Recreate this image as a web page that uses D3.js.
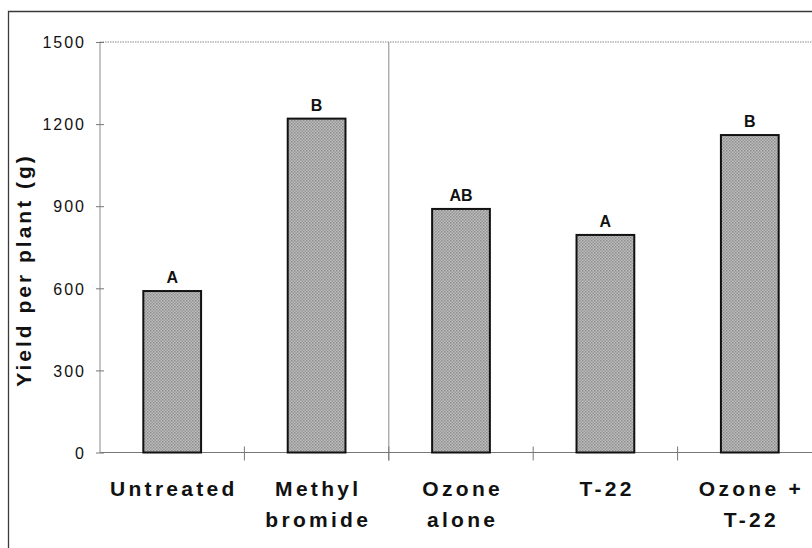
<!DOCTYPE html>
<html>
<head>
<meta charset="utf-8">
<script src="https://cdn.jsdelivr.net/npm/d3@7"></script>
<style>
  html, body { margin: 0; padding: 0; background: #fff; }
  svg { display: block; font-family: "Liberation Sans", Arial, sans-serif; }
  .tick-lab { font-size: 16px; letter-spacing: 2px; fill: #111; }
  .cat-lab { font-size: 21px; font-weight: bold; letter-spacing: 3.3px; fill: #111; }
  .sig-lab { font-size: 16px; font-weight: bold; fill: #111; }
  .y-title { font-size: 21px; font-weight: bold; letter-spacing: 3px; fill: #111; }
</style>
</head>
<body>
<div id="chart"></div>
<script>
// data
var categories = ["Untreated", "Methyl bromide", "Ozone alone", "T-22", "Ozone + T-22"],
    catLines = [["Untreated"], ["Methyl", "bromide"], ["Ozone", "alone"], ["T-22"], ["Ozone +", "T-22"]],
    yields = [590, 1220, 890, 795, 1160],
    sigLetters = ["A", "B", "AB", "A", "B"],
    yTicks = [0, 300, 600, 900, 1200, 1500];

var W = 812, H = 548,
    m = { t: 42, l: 100 },
    plotW = 722,   // runs past the right edge of the picture, as in the original
    plotB = 452.5;

var svg = d3.select("#chart")
  .append("svg")
    .attr("width", W)
    .attr("height", H);

// halftone-ish fill for the bars
var defs = svg.append("defs");
var pat = defs.append("pattern")
    .attr("id", "dots")
    .attr("width", 3)
    .attr("height", 3)
    .attr("patternUnits", "userSpaceOnUse");
pat.append("rect").attr("width", 3).attr("height", 3).attr("fill", "#bcbcbc");
pat.append("rect").attr("width", 1.5).attr("height", 1.5).attr("fill", "#8e8e8e");
pat.append("rect").attr("x", 1.5).attr("y", 1.5).attr("width", 1.5).attr("height", 1.5).attr("fill", "#999");

var x = d3.scaleBand()
    .domain(categories)
    .range([m.l, m.l + plotW])
    .paddingInner(0.6)
    .paddingOuter(0.3);
var xBand = d3.scaleBand()
    .domain(categories)
    .range([m.l, m.l + plotW]);
var y = d3.scaleLinear()
    .domain([0, 1500])
    .range([plotB, m.t]);

// outer frame (left and top only visible)
svg.append("path")
    .attr("d", "M8.5," + H + "V11.5H" + W)
    .attr("fill", "none")
    .attr("stroke", "#3a3a3a")
    .attr("stroke-width", 1.3);

// plot area border
svg.append("line")
    .attr("x1", m.l).attr("x2", W)
    .attr("y1", m.t).attr("y2", m.t)
    .attr("stroke", "#888")
    .attr("stroke-dasharray", "1.5,1");
svg.append("line")
    .attr("x1", m.l).attr("x2", m.l)
    .attr("y1", m.t).attr("y2", plotB)
    .attr("stroke", "#8a8a8a");

// separator between controls and ozone/T-22 treatments
var sepX = xBand(categories[2]);
svg.append("line")
    .attr("x1", sepX).attr("x2", sepX)
    .attr("y1", m.t).attr("y2", plotB + 8)
    .attr("stroke", "#8a8a8a");

// y axis
var axisY = d3.axisLeft(y)
    .tickValues(yTicks)
    .tickFormat(d3.format("d"))
    .tickSize(0)
    .tickPadding(14);
var gy = svg.append("g")
    .attr("transform", "translate(" + m.l + ",0)")
    .call(axisY);
gy.select(".domain").remove();
gy.selectAll("text")
    .attr("class", "tick-lab")
    .attr("font-family", null)
    .attr("font-size", null)
    .attr("dy", "0.36em");
gy.selectAll(".tick").append("line")
    .attr("x1", -4).attr("x2", 4)
    .attr("stroke", "#777");

// x axis baseline and ticks between categories
svg.append("line")
    .attr("x1", m.l).attr("x2", W)
    .attr("y1", plotB).attr("y2", plotB)
    .attr("stroke", "#777");
svg.selectAll(".xtick")
    .data(categories.slice(1))
  .enter().append("line")
    .attr("class", "xtick")
    .attr("x1", function(d) { return xBand(d); })
    .attr("x2", function(d) { return xBand(d); })
    .attr("y1", plotB - 6)
    .attr("y2", plotB + 8)
    .attr("stroke", "#777");

// bars
svg.selectAll(".bar")
    .data(yields)
  .enter().append("rect")
    .attr("class", "bar")
    .attr("x", function(d, i) { return x(categories[i]); })
    .attr("width", x.bandwidth())
    .attr("y", function(d) { return y(d); })
    .attr("height", function(d) { return plotB - y(d); })
    .attr("fill", "url(#dots)")
    .attr("stroke", "#111")
    .attr("stroke-width", 2);

// significance letters
svg.selectAll(".sig-lab")
    .data(sigLetters)
  .enter().append("text")
    .attr("class", "sig-lab")
    .attr("text-anchor", "middle")
    .attr("x", function(d, i) { return x(categories[i]) + x.bandwidth() / 2; })
    .attr("y", function(d, i) { return y(yields[i]) - 8; })
    .text(function(d) { return d; });

// category labels
var cat = svg.selectAll(".cat-lab")
    .data(catLines)
  .enter().append("text")
    .attr("class", "cat-lab")
    .attr("text-anchor", "middle")
    .attr("transform", function(d, i) {
      return "translate(" + (xBand(categories[i]) + xBand.bandwidth() / 2 + 1.65) + ",496)";
    });
cat.selectAll("tspan")
    .data(function(d) { return d; })
  .enter().append("tspan")
    .attr("x", 0)
    .attr("y", function(d, j) { return j * 31; })
    .text(function(d) { return d; });

// y axis title
svg.append("text")
    .attr("class", "y-title")
    .attr("text-anchor", "middle")
    .attr("transform", "translate(31,270) rotate(-90)")
    .text("Yield per plant (g)");
</script>
</body>
</html>
